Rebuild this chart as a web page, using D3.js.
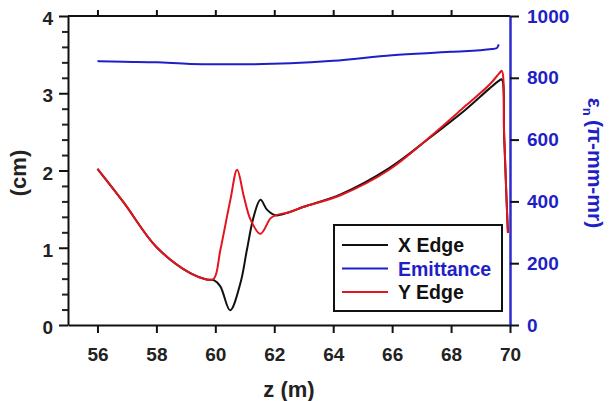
<!DOCTYPE html>
<html><head><meta charset="utf-8">
<script src="https://cdn.jsdelivr.net/npm/d3@7/dist/d3.min.js"></script>
<style>body{margin:0;background:#fff}svg{display:block}text{font-family:"Liberation Sans",Arial,sans-serif;font-weight:bold}</style>
</head><body><svg id="c" width="610" height="401"></svg>
<script>
const xTicks = [56, 58, 60, 62, 64, 66, 68, 70];
const yLeftTicks = [0, 1, 2, 3, 4];
const yRightTicks = [0, 200, 400, 600, 800, 1000];

const zX = [56, 56.9, 58, 59.15, 59.7, 59.95, 60.17, 60.5, 60.85, 61.07, 61.3, 61.53, 61.76, 62.04, 62.5, 63, 64.25, 65.9, 67.3, 68.5, 69.3, 69.62, 69.72, 69.8, 69.88, 69.93];
const xEdge = [2.02, 1.58, 1.01, 0.67, 0.59, 0.58, 0.50, 0.19, 0.54, 0.97, 1.40, 1.62, 1.49, 1.42, 1.46, 1.53, 1.69, 2.03, 2.43, 2.79, 3.06, 3.16, 3.18, 2.45, 1.65, 1.19];

const zY = [56, 56.9, 58, 59.15, 59.7, 59.95, 60.17, 60.51, 60.74, 60.97, 61.2, 61.53, 61.87, 62.04, 62.5, 63, 64.25, 65.9, 67.3, 68.5, 69.3, 69.62, 69.72, 69.8, 69.88, 69.93];
const yEdge = [2.02, 1.58, 1.01, 0.67, 0.59, 0.60, 0.97, 1.62, 2.01, 1.66, 1.36, 1.18, 1.38, 1.42, 1.46, 1.53, 1.68, 2.01, 2.44, 2.84, 3.11, 3.25, 3.29, 2.50, 1.65, 1.19];

const zE = [56, 56.9, 58, 59.15, 60, 61, 62.55, 64, 66, 68, 69.4, 69.55, 69.62];
const emittance = [854, 852, 850, 845, 844, 844, 847, 855, 873, 884, 893, 896, 908];

const legendNames = ["X Edge", "Emittance", "Y Edge"];
const colBlack = "#111111", colBlue = "#1f1fc8", colRed = "#e3141e";

const svg = d3.select("#c");
const L = 68, R = 510, T = 16, B = 325;
const x = d3.scaleLinear().domain([55, 70]).range([L, R]);
const yL = d3.scaleLinear().domain([0, 4]).range([B, T]);
const yR = d3.scaleLinear().domain([0, 1000]).range([B, T]);
const FONT = "Liberation Sans, Arial, sans-serif";

// top frame
svg.append("line").attr("x1", L).attr("x2", R).attr("y1", T).attr("y2", T).attr("stroke", colBlack).attr("stroke-width", 2);

// bottom axis
const gx = svg.append("g").attr("transform", `translate(0,${B})`)
  .call(d3.axisBottom(x).tickValues(xTicks).tickSize(8).tickSizeOuter(0).tickPadding(15));
gx.select(".domain").attr("stroke", colBlack).attr("stroke-width", 2);
gx.selectAll(".tick line").attr("stroke", colBlack).attr("stroke-width", 2);
gx.selectAll("text").attr("font-size", 19).attr("fill", "#222").attr("font-family", FONT).attr("font-weight", "bold");

// top ticks
const gt = svg.append("g").attr("transform", `translate(0,${T})`)
  .call(d3.axisTop(x).tickValues(xTicks.filter(d => d < 70)).tickSize(6).tickSizeOuter(0).tickFormat(""));
gt.select(".domain").remove();
gt.selectAll(".tick line").attr("stroke", colBlack).attr("stroke-width", 2);

// left minor ticks
const gm = svg.append("g").attr("transform", `translate(${L},0)`)
  .call(d3.axisLeft(yL).tickValues(d3.range(0, 4.01, 0.2).filter(v => Math.abs(v - Math.round(v)) > 0.01)).tickSize(6).tickFormat(""));
gm.select(".domain").remove();
gm.selectAll(".tick line").attr("stroke", "#222").attr("stroke-width", 2);

// left axis
const gl = svg.append("g").attr("transform", `translate(${L},0)`)
  .call(d3.axisLeft(yL).tickValues(yLeftTicks).tickSize(9).tickSizeOuter(0).tickPadding(6).tickFormat(d3.format("d")));
gl.select(".domain").attr("stroke", colBlack).attr("stroke-width", 2);
gl.selectAll(".tick line").attr("stroke", colBlack).attr("stroke-width", 2);
gl.selectAll("text").attr("font-size", 19).attr("fill", "#222").attr("font-family", FONT).attr("font-weight", "bold").attr("dy", "0.45em");

// right axis
const gr = svg.append("g").attr("transform", `translate(${R},0)`)
  .call(d3.axisRight(yR).tickValues(yRightTicks).tickSize(9).tickSizeOuter(0).tickPadding(8).tickFormat(d3.format("d")));
gr.select(".domain").attr("stroke", "#2b2bd0").attr("stroke-width", 2.5);
gr.selectAll(".tick line").attr("stroke", colBlack).attr("stroke-width", 2);
gr.selectAll("text").attr("font-size", 19).attr("fill", colBlue).attr("font-family", FONT).attr("font-weight", "bold");

// lines
const lineE = d3.line().curve(d3.curveMonotoneX);
const lineXY = d3.line().curve(d3.curveCatmullRom.alpha(0.5));
svg.append("path").attr("d", lineE(zE.map((z, i) => [x(z), yR(emittance[i])])))
  .attr("fill", "none").attr("stroke", colBlue).attr("stroke-width", 2);
svg.append("path").attr("d", lineXY(zX.map((z, i) => [x(z), yL(xEdge[i])])))
  .attr("fill", "none").attr("stroke", colBlack).attr("stroke-width", 2);
svg.append("path").attr("d", lineXY(zY.map((z, i) => [x(z), yL(yEdge[i])])))
  .attr("fill", "none").attr("stroke", colRed).attr("stroke-width", 2);

// axis titles
svg.append("text").attr("x", x(62.5)).attr("y", 397).attr("text-anchor", "middle")
  .attr("font-size", 22).attr("fill", "#222").text("z (m)");
svg.append("text").attr("transform", "translate(26,173) rotate(-90)").attr("text-anchor", "middle")
  .attr("font-size", 22).attr("fill", "#222").text("(cm)");
const rt = svg.append("text").attr("transform", "translate(588,163) rotate(90)").attr("text-anchor", "middle")
  .attr("font-size", 21).attr("fill", colBlue);
rt.append("tspan").text("ε");
rt.append("tspan").attr("font-size", 13).attr("dy", 5).text("n");
rt.append("tspan").attr("dy", -5).text("\u2009(π-mm-mr)");

// legend
const lg = svg.append("g");
lg.append("rect").attr("x", 334).attr("y", 225).attr("width", 168).attr("height", 86)
  .attr("fill", "#fff").attr("stroke", colBlack).attr("stroke-width", 2);
const lcols = [colBlack, colBlue, colRed];
const tcols = ["#111", colBlue, "#111"];
legendNames.forEach((n, i) => {
  const yy = 245 + i * 23.5;
  lg.append("line").attr("x1", 342).attr("x2", 388).attr("y1", yy).attr("y2", yy)
    .attr("stroke", lcols[i]).attr("stroke-width", 2);
  lg.append("text").attr("x", 398).attr("y", yy + 7).attr("font-size", 19.5).attr("fill", tcols[i]).text(n);
});
</script></body></html>
